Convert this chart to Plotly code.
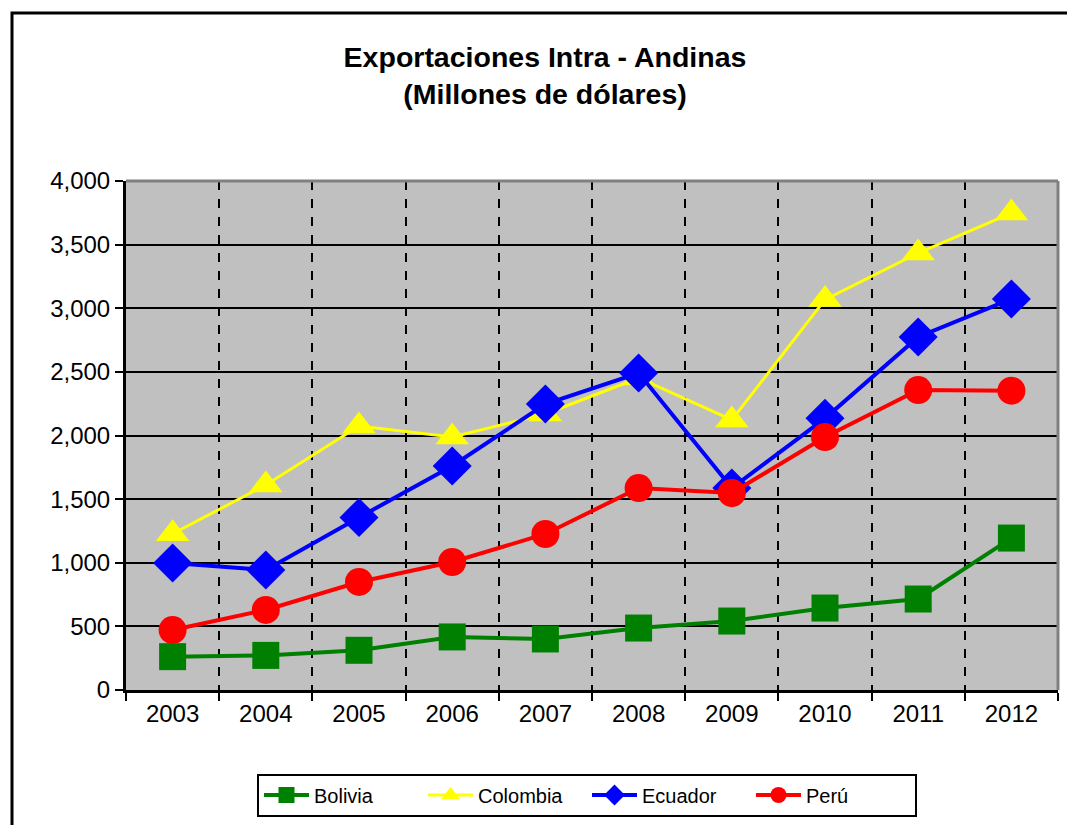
import plotly.graph_objects as go

anios = ["2003", "2004", "2005", "2006", "2007", "2008", "2009", "2010", "2011", "2012"]
bolivia = [262, 272, 312, 417, 401, 487, 542, 644, 715, 1194]
colombia = [1228, 1611, 2075, 1988, 2169, 2452, 2122, 3068, 3434, 3748]
ecuador = [998, 943, 1356, 1760, 2247, 2491, 1587, 2135, 2774, 3073]
peru = [471, 629, 849, 1006, 1226, 1587, 1548, 1988, 2357, 2352]

series = [
    ("Bolivia", bolivia, "#008000", "square", 4, 27),
    ("Colombia", colombia, "#FFFF00", "triangle-up", 3, 29),
    ("Ecuador", ecuador, "#0000FF", "diamond", 4, 30),
    ("Perú", peru, "#FF0000", "circle", 4, 28),
]

fig = go.Figure()
for nombre, valores, color, simbolo, ancho, tam in series:
    fig.add_trace(go.Scatter(
        x=anios, y=valores, name=nombre, mode="lines+markers",
        line=dict(color=color, width=ancho),
        marker=dict(symbol=simbolo, size=tam, color=color),
    ))

fuente = "Liberation Sans, Arial, sans-serif"

# la página añade 8 px de margen al body
izq, der, arr, aba = 118, 1050, 173, 682
ancho_px, alto_px = der - izq, aba - arr

fig.update_layout(
    width=1075, height=825,
    paper_bgcolor="white",
    plot_bgcolor="#C0C0C0",
    margin=dict(l=izq, r=1075 - der, t=arr, b=825 - aba),
    font=dict(family=fuente, size=24, color="black"),
    title=dict(
        text="<b>Exportaciones Intra - Andinas<br>(Millones de dólares)</b>",
        x=537 / 1075, xanchor="center", xref="container",
        y=1 - 59 / 825, yanchor="middle", yref="container",
        font=dict(size=28.5, family=fuente),
    ),
    showlegend=True,
    legend=dict(
        orientation="h", x=(579 - izq) / ancho_px, xanchor="center",
        y=(aba - 787) / alto_px, yanchor="middle",
        bordercolor="black", borderwidth=2,
        font=dict(size=20, family=fuente),
        itemwidth=45, entrywidth=104,
    ),
    xaxis=dict(
        type="category", tickson="boundaries",
        showgrid=True, gridcolor="black", gridwidth=2, griddash="dash",
        ticks="outside", ticklen=8, tickwidth=2, tickcolor="black",
        showline=True, linecolor="black", linewidth=3,
        tickfont=dict(size=24), range=[-0.5, 9.5],
    ),
    yaxis=dict(
        range=[0, 4000], dtick=500, tickformat=",d",
        showgrid=True, gridcolor="black", gridwidth=2,
        ticks="outside", ticklen=8, tickwidth=2, tickcolor="black",
        showline=True, linecolor="black", linewidth=3,
        tickfont=dict(size=24), zeroline=False,
    ),
    shapes=[
        dict(type="line", xref="paper", yref="paper",
             x0=1, x1=1, y0=0, y1=1, line=dict(color="#808080", width=3)),
        dict(type="line", xref="paper", yref="paper",
             x0=0, x1=1, y0=1, y1=1, line=dict(color="#808080", width=3)),
        dict(type="rect", xref="paper", yref="paper",
             x0=(4 - izq) / ancho_px, x1=(1085 - izq) / ancho_px,
             y0=(aba - 840) / alto_px, y1=(aba - 5) / alto_px,
             line=dict(color="black", width=3)),
    ],
)

fig.write_html("out.html")
